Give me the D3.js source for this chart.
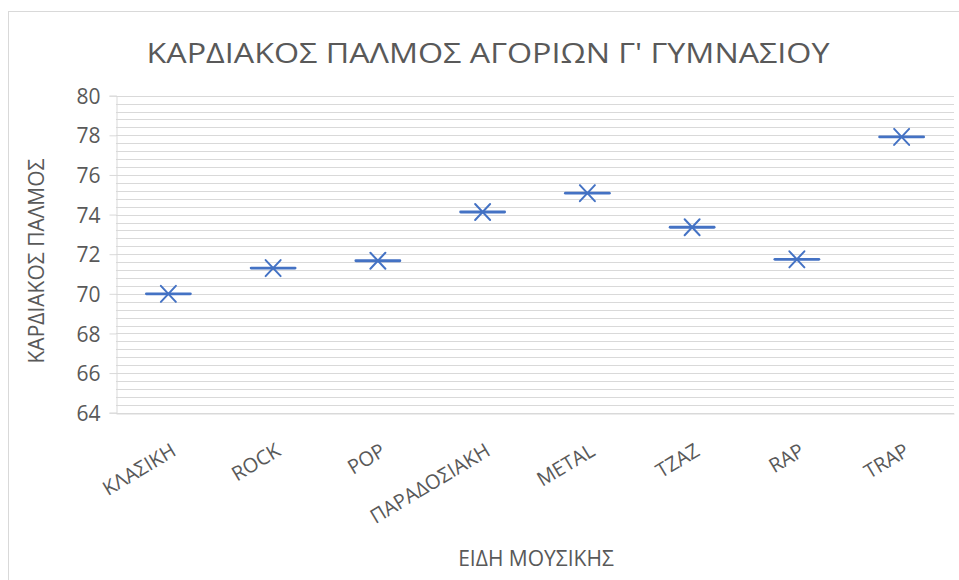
<!DOCTYPE html>
<html>
<head>
<meta charset="utf-8">
<script src="https://cdn.jsdelivr.net/npm/d3@7/dist/d3.min.js"></script>
<style>
  html, body { margin: 0; padding: 0; background: #fff; }
  svg { display: block; }
  text { font-family: "Open Sans", "Noto Sans", sans-serif; fill: #595959; }
</style>
</head>
<body>
<svg id="chart" width="959" height="580"></svg>
<script>
const categories = ["ΚΛΑΣΙΚΗ", "ROCK", "POP", "ΠΑΡΑΔΟΣΙΑΚΗ", "METAL", "TZAZ", "RAP", "TRAP"];
const values = [70.0, 71.3, 71.67, 74.13, 75.08, 73.36, 71.74, 77.92];
const yTicks = [64, 66, 68, 70, 72, 74, 76, 78, 80];
const yDomain = [64, 80];
const minorStep = 0.4;
const title = "ΚΑΡΔΙΑΚΟΣ ΠΑΛΜΟΣ ΑΓΟΡΙΩΝ Γ' ΓΥΜΝΑΣΙΟΥ";
const xTitle = "ΕΙΔΗ ΜΟΥΣΙΚΗΣ";
const yTitle = "ΚΑΡΔΙΑΚΟΣ ΠΑΛΜΟΣ";

const svg = d3.select("#chart");
const plotLeft = 116, plotRight = 954, plotTop = 95.7, plotBottom = 412.7;

// outer border
svg.append("rect")
  .attr("x", 8.5).attr("y", 11.5)
  .attr("width", 1000).attr("height", 1000)
  .attr("fill", "none").attr("stroke", "#d9d9d9").attr("stroke-width", 1);

const x = d3.scaleBand().domain(categories).range([plotLeft, plotRight]).padding(0);
const y = d3.scaleLinear().domain(yDomain).range([plotBottom, plotTop]);

// gridlines (minor every 0.4)
const gridVals = d3.range(0, Math.round((yDomain[1] - yDomain[0]) / minorStep) + 1)
  .map(i => yDomain[0] + i * minorStep);
svg.append("g").selectAll("line").data(gridVals).join("line")
  .attr("x1", plotLeft).attr("x2", plotRight)
  .attr("y1", d => Math.round(y(d)) + 0.5).attr("y2", d => Math.round(y(d)) + 0.5)
  .attr("stroke", "#d9d9d9").attr("stroke-width", 1.2);

// y axis
const yAxis = d3.axisLeft(y).tickValues(yTicks).tickSize(7).tickPadding(9).tickFormat(d3.format("d"));
const gy = svg.append("g").attr("transform", `translate(${plotLeft + 0.5},0)`).call(yAxis);
gy.select(".domain").attr("stroke", "#d9d9d9");
gy.selectAll(".tick line").attr("stroke", "#d9d9d9");
gy.selectAll(".tick text").style("font-size", "21px").attr("fill", "#595959").attr("dy", "0.36em");

// x axis
const xAxis = d3.axisBottom(x).tickSize(0).tickPadding(0);
const gx = svg.append("g").attr("transform", `translate(0,${Math.round(plotBottom) + 0.5})`).call(xAxis);
gx.select(".domain").attr("stroke", "#d9d9d9");
gx.selectAll(".tick text")
  .style("font-size", "20px").attr("fill", "#595959")
  .attr("text-anchor", "end")
  .attr("y", 0).attr("dy", null)
  .attr("transform", "translate(9,41) rotate(-31)");

// markers
const mk = svg.append("g").selectAll("g").data(categories).join("g")
  .attr("transform", (d, i) => `translate(${x(d) + x.bandwidth() / 2},${y(values[i])})`);
mk.append("line").attr("x1", -22).attr("x2", 22).attr("y1", 0).attr("y2", 0)
  .attr("stroke", "#4472C4").attr("stroke-width", 2.8).attr("stroke-linecap", "round");
mk.append("line").attr("x1", -7.5).attr("x2", 7.5).attr("y1", -8).attr("y2", 8)
  .attr("stroke", "#4472C4").attr("stroke-width", 2).attr("stroke-linecap", "round");
mk.append("line").attr("x1", -7.5).attr("x2", 7.5).attr("y1", 8).attr("y2", -8)
  .attr("stroke", "#4472C4").attr("stroke-width", 2).attr("stroke-linecap", "round");

// title
svg.append("text").attr("x", 488).attr("y", 63)
  .attr("text-anchor", "middle").style("font-size", "28px")
  .attr("textLength", 683).attr("lengthAdjust", "spacingAndGlyphs")
  .text(title);

// x title
svg.append("text").attr("x", 536).attr("y", 566)
  .attr("text-anchor", "middle").style("font-size", "21px")
  .text(xTitle);

// y title
svg.append("text").attr("transform", "translate(43.5,261) rotate(-90)")
  .attr("text-anchor", "middle").style("font-size", "21px")
  .text(yTitle);
</script>
</body>
</html>
